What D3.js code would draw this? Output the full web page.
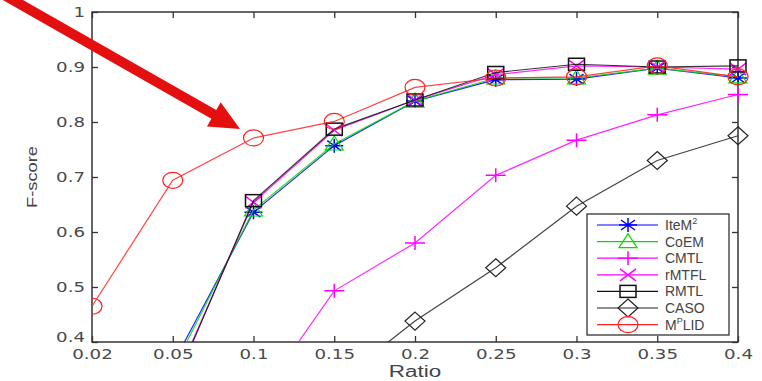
<!DOCTYPE html>
<html>
<head>
<meta charset="utf-8">
<script src="https://cdn.jsdelivr.net/npm/d3@7/dist/d3.min.js"></script>
<style>
  html, body { margin: 0; padding: 0; background: #fff; }
  svg { display: block; font-family: "Liberation Sans", Arial, sans-serif; }
</style>
</head>
<body>
<svg id="chart" width="762" height="381"></svg>
<script>
// Sampling ratios (evenly spaced categories on the x axis)
const ratios = ["0.02", "0.05", "0.1", "0.15", "0.2", "0.25", "0.3", "0.35", "0.4"];
const yTicks = [0.4, 0.5, 0.6, 0.7, 0.8, 0.9, 1];

// F-score per method (null = not evaluated)
const iteMP = [null, 0.36, 0.636, 0.757, 0.838, 0.877, 0.878, 0.898, 0.880];
const coEM  = [null, 0.35, 0.640, 0.760, 0.838, 0.880, 0.880, 0.898, 0.882];
const cmtl  = [null, null, 0.283, 0.493, 0.580, 0.703, 0.767, 0.813, 0.850];
const rmtfl = [null, 0.32, 0.654, 0.785, 0.840, 0.886, 0.902, 0.900, 0.896];
const rmtl  = [null, 0.315, 0.657, 0.787, 0.840, 0.890, 0.905, 0.900, 0.902];
const caso  = [null, null, null, 0.323, 0.438, 0.535, 0.647, 0.730, 0.775];
const mplid = [0.465, 0.694, 0.771, 0.801, 0.863, 0.880, 0.882, 0.902, 0.882];

const series = [
  { name: "IteM", sup: "2", values: iteMP, color: "#0000ff", marker: "star" },
  { name: "CoEM", sup: "", values: coEM, color: "#00dd00", marker: "triangle" },
  { name: "CMTL", sup: "", values: cmtl, color: "#ff00ff", marker: "plus" },
  { name: "rMTFL", sup: "", values: rmtfl, color: "#ff00ff", marker: "cross" },
  { name: "RMTL", sup: "", values: rmtl, color: "#111111", marker: "square" },
  { name: "CASO", sup: "", values: caso, color: "#222222", marker: "diamond" },
  { name: "M", sup: "P", post: "LID", values: mplid, color: "#ff2020", marker: "circle" }
];

const svg = d3.select("#chart");
const pLeft = 92, pRight = 738, pTop = 12, pBottom = 342;

const x = d3.scalePoint().domain(ratios).range([pLeft, pRight]);
const y = d3.scaleLinear().domain([0.4, 1]).range([pBottom, pTop]);

svg.append("defs").append("clipPath").attr("id", "plotClip")
  .append("rect").attr("x", pLeft).attr("y", pTop - 12)
  .attr("width", pRight - pLeft + 12).attr("height", pBottom - pTop + 12);

// Widen a text run horizontally (the figure uses a broad sans face)
function widen(sel, k) {
  sel.each(function () {
    const w = this.getComputedTextLength();
    d3.select(this).attr("textLength", w * k).attr("lengthAdjust", "spacingAndGlyphs");
  });
}

// Marker shapes drawn around (0,0)
function drawMarker(g, kind, color) {
  const s = { fill: "none", stroke: color, "stroke-width": 1.2 };
  const apply = sel => { Object.entries(s).forEach(([k, v]) => sel.attr(k, v)); return sel; };
  if (kind === "circle") apply(g.append("ellipse").attr("rx", 10).attr("ry", 8));
  else if (kind === "square") apply(g.append("rect").attr("x", -8).attr("y", -6).attr("width", 16).attr("height", 12)).attr("stroke-width", 1.5);
  else if (kind === "diamond") apply(g.append("path").attr("d", "M0,-9L10,0L0,9L-10,0Z"));
  else if (kind === "triangle") apply(g.append("path").attr("d", "M0,-8L9,6L-9,6Z"));
  else if (kind === "plus") apply(g.append("path").attr("d", "M-10,0H10M0,-7V7")).attr("stroke-width", 1.5);
  else if (kind === "cross") apply(g.append("path").attr("d", "M-8,-6L8,6M-8,6L8,-6")).attr("stroke-width", 1.5);
  else if (kind === "star") apply(g.append("path").attr("d", "M-9,0H9M0,-7V7M-7,-5L7,5M-7,5L7,-5")).attr("stroke-width", 1.5);
}

// Axes box
const axisColor = "#333";
svg.append("rect").attr("x", pLeft).attr("y", pTop).attr("width", pRight - pLeft).attr("height", pBottom - pTop)
  .attr("fill", "none").attr("stroke", axisColor).attr("stroke-width", 1.5);

const xAxis = d3.axisBottom(x).tickSize(-6).tickPadding(10);
const xg = svg.append("g").attr("transform", `translate(0,${pBottom})`).call(xAxis);
const xTop = svg.append("g").attr("transform", `translate(0,${pTop})`).call(d3.axisTop(x).tickSize(-6).tickFormat(""));
const yAxis = d3.axisLeft(y).tickValues(yTicks).tickSize(-6).tickPadding(7).tickFormat(d3.format("~g"));
const yg = svg.append("g").attr("transform", `translate(${pLeft},0)`).call(yAxis);
const yRight = svg.append("g").attr("transform", `translate(${pRight},0)`).call(d3.axisRight(y).tickValues(yTicks).tickSize(-6).tickFormat(""));
[xg, xTop, yg, yRight].forEach(g => {
  g.select(".domain").remove();
  g.selectAll(".tick line").attr("stroke", axisColor).attr("stroke-width", 1.3);
  g.selectAll("text").attr("fill", "#4a4a4a").attr("font-size", 14)
    .attr("font-family", "DejaVu Sans, sans-serif");
});
xg.selectAll("text").attr("dy", "0.5em");
// the lowest y label sits just above the corner so it clears the first x label
yg.selectAll(".tick text").filter(d => d === 0.4).attr("y", -5);
widen(xg.selectAll("text"), 1.3);
widen(yg.selectAll("text"), 1.3);

// Axis titles
const xTitle = svg.append("text").attr("x", 415).attr("y", 377).attr("text-anchor", "middle")
  .attr("font-size", 16).attr("fill", "#444").text("Ratio");
widen(xTitle, 1.4);
const yTitle = svg.append("text").attr("transform", "translate(37,177) rotate(-90)").attr("text-anchor", "middle")
  .attr("font-size", 15).attr("fill", "#444").text("F-score");
widen(yTitle, 1.22);

// Lines and markers
const plot = svg.append("g").attr("clip-path", "url(#plotClip)");
const line = d3.line().defined(d => d.v !== null).x(d => x(d.r)).y(d => y(d.v));
series.forEach(s => {
  const pts = s.values.map((v, i) => ({ r: ratios[i], v }));
  plot.append("path").datum(pts).attr("d", line).attr("fill", "none")
    .attr("stroke", s.color).attr("stroke-width", 1.2).attr("opacity", 0.85);
  pts.filter(p => p.v !== null && p.v >= 0.4).forEach(p => {
    const g = plot.append("g").attr("transform", `translate(${x(p.r)},${y(p.v)})`);
    drawMarker(g, s.marker, s.color);
  });
});

// Legend
const lg = svg.append("g");
lg.append("rect").attr("x", 587).attr("y", 214).attr("width", 142).attr("height", 121)
  .attr("fill", "#fff").attr("stroke", axisColor).attr("stroke-width", 1.3);
series.forEach((s, i) => {
  const yy = 225 + i * 16.6;
  lg.append("line").attr("x1", 597).attr("x2", 658).attr("y1", yy).attr("y2", yy)
    .attr("stroke", s.color).attr("stroke-width", 1.2);
  const g = lg.append("g").attr("transform", `translate(628,${yy})`);
  drawMarker(g, s.marker, s.color);
  const t = lg.append("text").attr("x", 665).attr("y", yy + 5).attr("font-size", 14).attr("fill", "#444");
  t.append("tspan").text(s.name);
  if (s.sup) t.append("tspan").attr("font-size", 9).attr("dy", -6).text(s.sup);
  if (s.post) t.append("tspan").attr("dy", 6).text(s.post);
});

// Red pointer arrow toward the M^P LID curve
const arrow = svg.append("g").attr("fill", "#e41010").attr("stroke", "none");
const ang = Math.atan2(0.56, 1);
const tip = [240, 129], headLen = 30, headHalf = 14, shaft = 5;
const ux = Math.cos(ang), uy = Math.sin(ang), nx = -uy, ny = ux;
const base = [tip[0] - ux * headLen, tip[1] - uy * headLen];
const start = [-10, -13];
arrow.append("path").attr("d", d3.line()([
  [start[0] + nx * shaft, start[1] + ny * shaft],
  [base[0] + nx * shaft, base[1] + ny * shaft],
  [base[0] + nx * headHalf, base[1] + ny * headHalf],
  tip,
  [base[0] - nx * headHalf, base[1] - ny * headHalf],
  [base[0] - nx * shaft, base[1] - ny * shaft],
  [start[0] - nx * shaft, start[1] - ny * shaft]
]) + "Z");
</script>
</body>
</html>
